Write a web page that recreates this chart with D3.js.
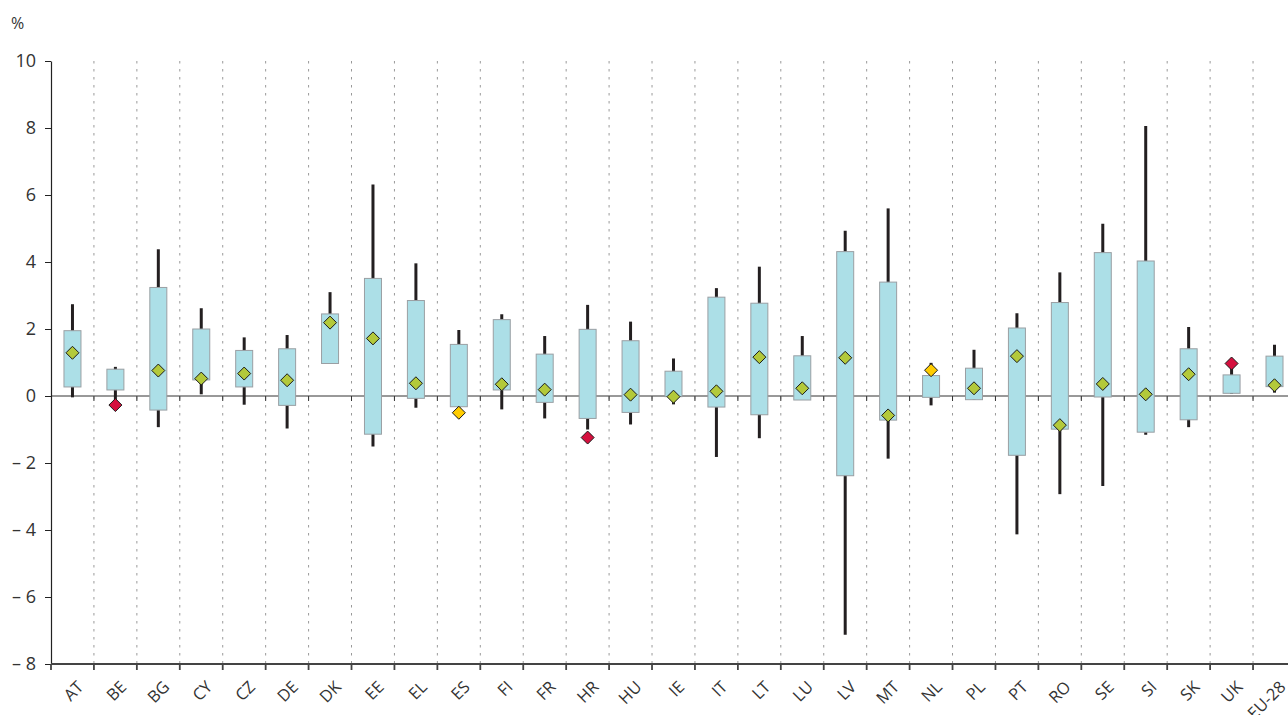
<!DOCTYPE html>
<html>
<head>
<meta charset="utf-8">
<script src="https://cdn.jsdelivr.net/npm/d3@7"></script>
<style>
  html, body { margin: 0; padding: 0; background: #fff; }
  svg { display: block; font-family: "Open Sans", "Noto Sans", sans-serif; }
</style>
</head>
<body>
<svg id="chart" width="1288" height="715"></svg>
<script>
const categories = ["AT","BE","BG","CY","CZ","DE","DK","EE","EL","ES","FI","FR","HR","HU","IE","IT","LT","LU","LV","MT","NL","PL","PT","RO","SE","SI","SK","UK","EU-28"];
const whiskerHigh = [2.74,0.87,4.38,2.62,1.75,1.82,3.10,6.31,3.96,1.97,2.44,1.79,2.72,2.22,1.12,3.22,3.86,1.79,4.93,5.60,0.99,1.38,2.47,3.69,5.14,8.06,2.06,0.90,1.53];
const boxHigh     = [1.95,0.80,3.24,2.00,1.36,1.41,2.45,3.51,2.85,1.54,2.28,1.25,1.99,1.65,0.74,2.95,2.77,1.20,4.31,3.40,0.61,0.83,2.03,2.79,4.28,4.03,1.41,0.63,1.19];
const boxLow      = [0.27,0.18,-0.42,0.48,0.27,-0.28,0.97,-1.14,-0.07,-0.32,0.18,-0.19,-0.67,-0.49,-0.02,-0.33,-0.56,-0.12,-2.38,-0.72,-0.04,-0.11,-1.77,-0.99,-0.03,-1.08,-0.71,0.08,0.28];
const whiskerLow  = [-0.04,-0.15,-0.93,0.05,-0.26,-0.97,0.97,-1.51,-0.35,-0.66,-0.40,-0.67,-1.00,-0.85,-0.25,-1.82,-1.26,-0.12,-7.13,-1.87,-0.28,-0.11,-4.13,-2.93,-2.69,-1.16,-0.93,0.06,0.10];
const currentVal  = [1.29,-0.27,0.76,0.52,0.67,0.47,2.19,1.72,0.38,-0.50,0.35,0.19,-1.24,0.04,-0.02,0.14,1.16,0.23,1.14,-0.58,0.77,0.23,1.19,-0.87,0.36,0.05,0.65,0.97,0.32];
const status      = ["g","r","g","g","g","g","g","g","g","y","g","g","r","g","g","g","g","g","g","g","y","g","g","g","g","g","g","r","g"];
const yTicks = [-8,-6,-4,-2,0,2,4,6,8,10];
const yUnit = "%";

const statusColor = { g: "#b3c93a", r: "#d5103e", y: "#ffcc00" };

const svg = d3.select("#chart");
const W = 1288;
const mLeft = 51, mTop = 61, mBottom = 664;
const step = 42.93;

const x = d3.scaleBand().domain(categories).range([mLeft, mLeft + step * categories.length]).padding(0);
const y = d3.scaleLinear().domain([-8, 10]).range([mBottom, mTop]);

const rows = categories.map((c, i) => ({
  c, wh: whiskerHigh[i], bh: boxHigh[i], bl: boxLow[i], wl: whiskerLow[i], v: currentVal[i], s: status[i]
}));

// dotted gridlines at band boundaries
const bounds = categories.slice(1).map(c => x(c)).concat([x(categories[categories.length-1]) + x.bandwidth()]);
const visBounds = bounds.filter(b => b < W);
svg.append("g").selectAll("line").data(visBounds).join("line")
  .attr("x1", d => d).attr("x2", d => d)
  .attr("y1", mTop).attr("y2", mBottom)
  .attr("stroke", "#999").attr("stroke-width", 1)
  .attr("stroke-dasharray", "2.5,5.5");

// zero line
svg.append("line")
  .attr("x1", mLeft).attr("x2", W)
  .attr("y1", y(0)).attr("y2", y(0))
  .attr("stroke", "#333").attr("stroke-width", 1);
svg.append("g").selectAll("line").data(visBounds).join("line")
  .attr("x1", d => d).attr("x2", d => d)
  .attr("y1", y(0)).attr("y2", y(0) + 5)
  .attr("stroke", "#333").attr("stroke-width", 1);

// whiskers
const cx = d => x(d.c) + x.bandwidth() / 2;
svg.append("g").selectAll("line").data(rows).join("line")
  .attr("x1", cx).attr("x2", cx)
  .attr("y1", d => y(d.wh)).attr("y2", d => y(d.wl))
  .attr("stroke", "#231f20").attr("stroke-width", 3);

// boxes
const bw = 17;
svg.append("g").selectAll("rect").data(rows).join("rect")
  .attr("x", d => cx(d) - bw / 2)
  .attr("y", d => y(d.bh))
  .attr("width", bw)
  .attr("height", d => y(d.bl) - y(d.bh))
  .attr("fill", "#acdfe7")
  .attr("stroke", "#9a9fa3").attr("stroke-width", 1);

// diamonds
const r = 6.5;
svg.append("g").selectAll("path").data(rows).join("path")
  .attr("d", d => {
    const px = cx(d), py = y(d.v);
    return `M${px},${py - r}L${px + r},${py}L${px},${py + r}L${px - r},${py}Z`;
  })
  .attr("fill", d => statusColor[d.s])
  .attr("stroke", "#1a1a1a").attr("stroke-width", 1);

// y axis
const fmt = v => v < 0 ? "\u2013 " + Math.abs(v) : String(v);
const yAxis = svg.append("g").attr("transform", `translate(${mLeft},0)`)
  .call(d3.axisLeft(y).tickValues(yTicks).tickFormat(fmt).tickSize(6).tickSizeOuter(0));
yAxis.select(".domain").attr("stroke", "#222").attr("stroke-width", 1.2);
yAxis.selectAll(".tick line").attr("stroke", "#222");
yAxis.selectAll(".tick text").attr("fill", "#333").attr("font-size", 18).attr("x", -15)
  .attr("font-family", "'Open Sans', sans-serif");

// x axis at bottom
svg.append("line")
  .attr("x1", mLeft).attr("x2", W)
  .attr("y1", mBottom).attr("y2", mBottom)
  .attr("stroke", "#444").attr("stroke-width", 1.8);
svg.append("g").selectAll("line").data([mLeft].concat(visBounds)).join("line")
  .attr("x1", d => d).attr("x2", d => d)
  .attr("y1", mBottom).attr("y2", mBottom + 6)
  .attr("stroke", "#444").attr("stroke-width", 1.8);

// x labels
svg.append("g").selectAll("text").data(rows).join("text")
  .attr("transform", d => `translate(${cx(d) + 8},${mBottom + 20}) rotate(-45)`)
  .attr("text-anchor", "end")
  .attr("dy", "0.35em")
  .attr("font-size", 16.5)
  .attr("fill", "#333")
  .text(d => d.c);

// unit label
svg.append("text")
  .attr("x", 11).attr("y", 29)
  .attr("font-size", 16)
  .attr("fill", "#333")
  .text(yUnit);
</script>
</body>
</html>
